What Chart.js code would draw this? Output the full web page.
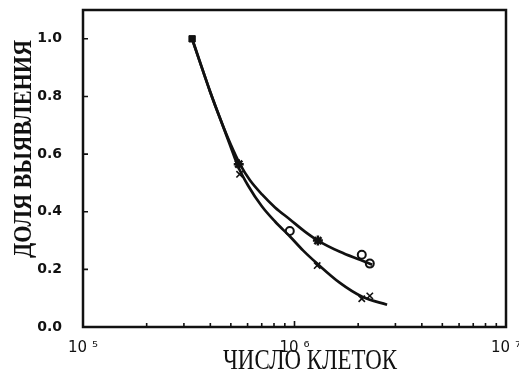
<!DOCTYPE html>
<html>
<head>
<meta charset="utf-8">
<script src="https://cdn.jsdelivr.net/npm/chart.js@4/dist/chart.umd.min.js"></script>
<style>
  html, body { margin: 0; padding: 0; background: #fff; }
</style>
</head>
<body>
<canvas id="detection" width="519" height="373"></canvas>
<script>
// fitted curves (cell count -> detected share)
const upperCells  = [3.28e5, 3.57e5, 3.98e5, 4.44e5, 4.96e5, 5.53e5, 6.16e5, 7.02e5, 8.09e5, 9.52e5, 1.12e6, 1.29e6, 1.64e6, 2.04e6, 2.33e6];
const upperShares = [1.0, 0.920, 0.819, 0.725, 0.638, 0.564, 0.509, 0.460, 0.415, 0.373, 0.331, 0.300, 0.261, 0.233, 0.216];
const lowerCells  = [3.28e5, 3.57e5, 3.98e5, 4.44e5, 4.96e5, 5.41e5, 6.03e5, 7.02e5, 8.09e5, 9.52e5, 1.10e6, 1.28e6, 1.64e6, 2.09e6, 2.74e6];
const lowerShares = [1.0, 0.920, 0.819, 0.725, 0.631, 0.557, 0.491, 0.418, 0.366, 0.314, 0.265, 0.220, 0.153, 0.105, 0.077];

// measured points
const squareCells  = [3.28e5];
const squareShares = [1.0];
const starCells    = [5.45e5, 1.29e6];
const starShares   = [0.565, 0.300];
const circleCells  = [9.5e5, 2.08e6, 2.27e6];
const circleShares = [0.333, 0.251, 0.220];
const crossCells   = [5.5e5, 1.28e6, 2.08e6, 2.27e6];
const crossShares  = [0.530, 0.213, 0.098, 0.108];

// axes
const yTicks = [0, 0.2, 0.4, 0.6, 0.8, 1.0];
const xMajorTicks = [1e5, 1e6, 1e7];
const xMinorTicks = [2e5, 3e5, 4e5, 5e5, 6e5, 7e5, 8e5, 9e5, 2e6, 3e6, 4e6, 5e6, 6e6, 7e6, 8e6, 9e6];
const xTickLabels = ['10 \u2075', '10 \u2076', '10 \u2077'];
const xTitle = 'ЧИСЛО КЛЕТОК';
const yTitle = 'ДОЛЯ ВЫЯВЛЕНИЯ';

const ink = '#111';

function pts(xs, ys) {
  return xs.map((x, i) => ({ x: x, y: ys[i] }));
}

// draws text squeezed/stretched to a given length
function fitText(ctx, text, font, length) {
  ctx.font = font;
  const w = ctx.measureText(text).width;
  ctx.scale(length / w, 1);
  ctx.fillText(text, 0, 0);
}

const framePlugin = {
  id: 'frame',
  afterDraw(chart) {
    const ctx = chart.ctx;
    const a = chart.chartArea;
    const xs = chart.scales.x, ys = chart.scales.y;
    ctx.save();
    ctx.strokeStyle = ink;
    ctx.lineWidth = 2.5;
    ctx.strokeRect(a.left, a.top, a.right - a.left, a.bottom - a.top);

    // inward tick marks
    ctx.lineWidth = 1.6;
    ctx.beginPath();
    yTicks.forEach(v => {
      const y = ys.getPixelForValue(v);
      ctx.moveTo(a.left, y);
      ctx.lineTo(a.left + 5, y);
    });
    xMinorTicks.concat(xMajorTicks).forEach(v => {
      const x = xs.getPixelForValue(v);
      ctx.moveTo(x, a.bottom);
      ctx.lineTo(x, a.bottom - (xMajorTicks.includes(v) ? 6 : 4));
    });
    ctx.stroke();

    // axis titles
    ctx.fillStyle = ink;
    ctx.textBaseline = 'middle';
    ctx.textAlign = 'left';
    ctx.save();
    ctx.translate(223, 361);
    fitText(ctx, xTitle, '29px "Liberation Serif"', 174);
    ctx.restore();

    ctx.save();
    ctx.translate(24, 258);
    ctx.rotate(-Math.PI / 2);
    fitText(ctx, yTitle, 'bold 26px "Liberation Serif"', 218);
    ctx.restore();
    ctx.restore();
  }
};

new Chart(document.getElementById('detection'), {
  type: 'scatter',
  data: {
    datasets: [
      { data: pts(upperCells, upperShares), showLine: true, pointRadius: 0,
        borderColor: ink, borderWidth: 2.7, cubicInterpolationMode: 'monotone' },
      { data: pts(lowerCells, lowerShares), showLine: true, pointRadius: 0,
        borderColor: ink, borderWidth: 2.7, cubicInterpolationMode: 'monotone' },
      { data: pts(squareCells, squareShares), pointStyle: 'rect', pointRadius: 4.5,
        backgroundColor: ink, borderColor: ink, borderWidth: 1 },
      { data: pts(starCells, starShares), pointStyle: 'star', pointRadius: 5,
        backgroundColor: ink, borderColor: ink, borderWidth: 2.5 },
      { data: pts(circleCells, circleShares), pointStyle: 'circle', pointRadius: 4,
        backgroundColor: '#fff', borderColor: ink, borderWidth: 2 },
      { data: pts(crossCells, crossShares), pointStyle: 'crossRot', pointRadius: 4.5,
        borderColor: ink, borderWidth: 1.6 }
    ]
  },
  options: {
    responsive: false,
    animation: false,
    devicePixelRatio: 1,
    layout: { padding: { top: 10, right: 13, left: 0, bottom: 0 } },
    plugins: { legend: { display: false }, tooltip: { enabled: false } },
    scales: {
      x: {
        type: 'logarithmic',
        min: 1e5,
        max: 1e7,
        afterBuildTicks: s => { s.ticks = xMajorTicks.concat(xMinorTicks).sort((a, b) => a - b).map(v => ({ value: v })); },
        afterFit: s => { s.height = 46; s.paddingLeft = 0; s.paddingRight = 0; },
        grid: { display: false },
        border: { display: false },
        ticks: {
          autoSkip: false,
          maxRotation: 0,
          padding: 4,
          color: ink,
          font: { family: 'DejaVu Sans', size: 15 },
          callback: v => {
            const i = xMajorTicks.indexOf(v);
            return i >= 0 ? xTickLabels[i] : '';
          }
        }
      },
      y: {
        min: 0,
        max: 1.1,
        afterBuildTicks: s => { s.ticks = yTicks.map(v => ({ value: v })); },
        afterFit: s => { s.width = 83; s.paddingTop = 0; s.paddingBottom = 0; },
        grid: { display: false },
        border: { display: false },
        ticks: {
          padding: 13,
          color: ink,
          font: { family: 'DejaVu Sans', size: 14, weight: 'bold' },
          callback: v => v.toFixed(1)
        }
      }
    }
  },
  plugins: [framePlugin]
});
</script>
</body>
</html>
